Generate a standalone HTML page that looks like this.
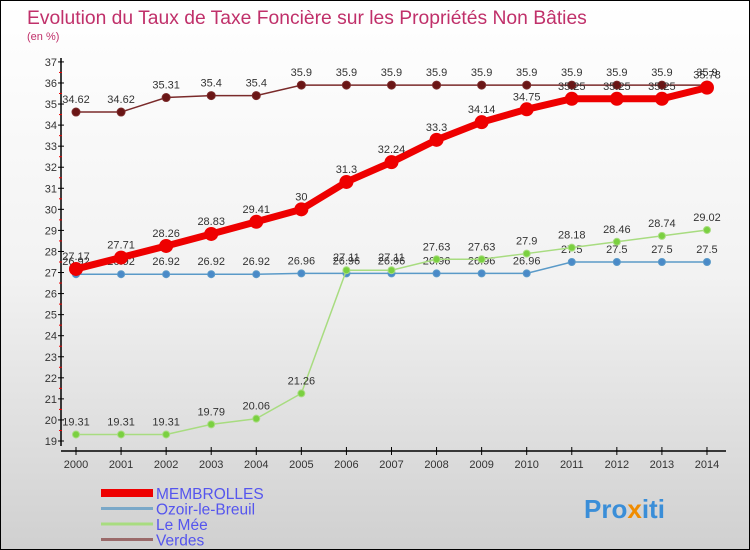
<!DOCTYPE html>
<html><head><meta charset="utf-8"><style>
body{margin:0}
#c{width:748px;height:548px;border:1px solid #000;background:linear-gradient(#fff 0%,#f2f2f2 50%,#d0d0d0 100%);position:relative;font-family:"Liberation Sans",sans-serif;overflow:hidden}
svg text{font-family:"Liberation Sans",sans-serif}
</style></head><body>
<div id="c">
<svg id="s" width="748" height="548">
<text x="26" y="23" font-size="19.3" fill="#c0306a">Evolution du Taux de Taxe Foncière sur les Propriétés Non Bâties</text>
<text x="26" y="39" font-size="11" fill="#c0306a">(en %)</text>
<g id="g"></g>
<text x="583" y="517" font-size="26" font-weight="bold" fill="#3a8ed8">Pro<tspan fill="#f08c00">x</tspan>iti</text>
</svg></div>
<script>
const years=[2000,2001,2002,2003,2004,2005,2006,2007,2008,2009,2010,2011,2012,2013,2014];
const membrolles=[27.17,27.71,28.26,28.83,29.41,30,31.3,32.24,33.3,34.14,34.75,35.25,35.25,35.25,35.78];
const ozoir=[26.92,26.92,26.92,26.92,26.92,26.96,26.96,26.96,26.96,26.96,26.96,27.5,27.5,27.5,27.5];
const leMee=[19.31,19.31,19.31,19.79,20.06,21.26,27.11,27.11,27.63,27.63,27.9,28.18,28.46,28.74,29.02];
const verdes=[34.62,34.62,35.31,35.4,35.4,35.9,35.9,35.9,35.9,35.9,35.9,35.9,35.9,35.9,35.9];
const yTicks=[19,20,21,22,23,24,25,26,27,28,29,30,31,32,33,34,35,36,37];
const NS='http://www.w3.org/2000/svg',g=document.getElementById('g');
const X=i=>75+i*45.07, Y=v=>440-(v-19)*21.06;
function el(t,a,p){const e=document.createElementNS(NS,t);for(const k in a)e.setAttribute(k,a[k]);(p||g).appendChild(e);return e;}
let ya=el('line',{x1:60,y1:57,x2:60,y2:445,stroke:'#000','stroke-width':1.5});


let xa=el('line',{x1:60,y1:450,x2:725,y2:450,stroke:'#000','stroke-width':1.5});


yTicks.forEach(v=>{
 el('line',{x1:57,y1:Y(v),x2:63,y2:Y(v),stroke:'#000'});
 if(v<37) el('line',{x1:58,y1:Y(v+0.5),x2:61,y2:Y(v+0.5),stroke:'#e00'});
 const t=el('text',{x:56,y:Y(v)+4,'font-size':11,fill:'#333','text-anchor':'end'});t.textContent=v;
 
 
});
years.forEach((y,i)=>{
 el('line',{x1:X(i),y1:446,x2:X(i),y2:454,stroke:'#000'});
 const t=el('text',{x:X(i),y:467,'font-size':11,fill:'#333','text-anchor':'middle'});t.textContent=y;
 
 
});
function series(d,name,col,w,r,dot){
 const pl=el('polyline',{points:d.map((v,i)=>X(i)+','+Y(v)).join(' '),fill:'none',stroke:col,'stroke-width':w});
 
 
 d.forEach((v,i)=>{
  const c=el('circle',{cx:X(i),cy:Y(v),r:r,fill:dot,stroke:col,'stroke-width':1});
  
  
  const t=el('text',{x:X(i),y:Y(v)-9,'font-size':11,fill:'#333','text-anchor':'middle'});t.textContent=v;
  
  
 });
}
series(verdes,'verdes','#7a2a2a',1.5,4,'#6a1515');
series(ozoir,'ozoir','#5a9ac8',1.5,3.5,'#4a8ac8');
series(leMee,'le-mee','#a8dc80',1.5,3.5,'#7ad040');
series(membrolles,'membrolles','#ee0000',7,6.5,'#e00');
const names=['MEMBROLLES','Ozoir-le-Breuil','Le Mée','Verdes'],cols=['#ee0000','#7aa8c8','#a8dc80','#9a6a6a'],ws=[8,3,3,3];
names.forEach((n,i)=>{
 const y=492+i*15.5;
 const l=el('line',{x1:100,y1:y,x2:152,y2:y,stroke:cols[i],'stroke-width':ws[i]});
 
 
 const t=el('text',{x:155,y:y+6,'font-size':15.5,fill:'#5555ee'});t.textContent=n;
 
 
});
</script></body></html>
